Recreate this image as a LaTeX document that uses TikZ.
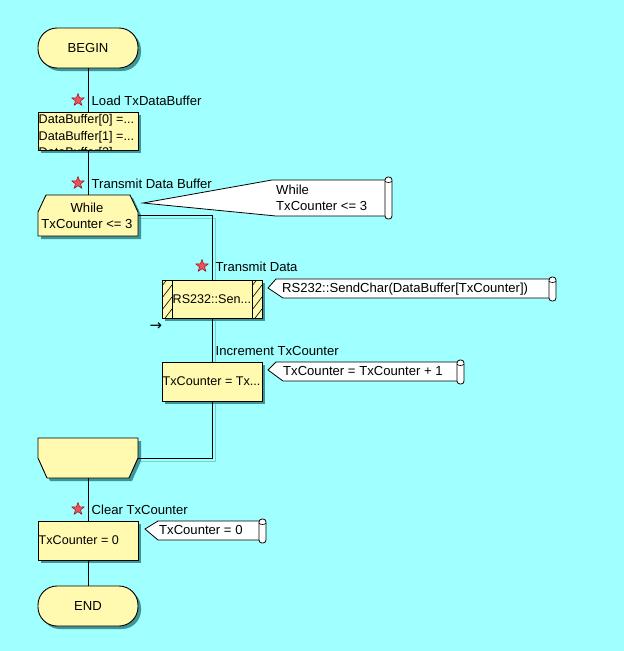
\documentclass[tikz,border=0pt]{standalone}
\usepackage{fontspec}
\setmainfont{Liberation Sans}
\newfontfamily\symfont{DejaVu Sans}
\usetikzlibrary{shapes.geometric,shadows,calc}
\definecolor{bgcol}{RGB}{160,255,255}
\definecolor{nodefill}{RGB}{255,250,176}
\definecolor{shad}{RGB}{64,150,150}
\definecolor{lshad}{RGB}{115,210,210}
\definecolor{starred}{RGB}{240,80,90}
\definecolor{stardark}{RGB}{140,20,30}
\pgfdeclarelayer{back}
\pgfdeclarelayer{lineshadow}
\pgfsetlayers{back,lineshadow,main}
\begin{document}
\begin{tikzpicture}[x=1pt,y=-1pt,font=\fontsize{13.1}{16}\selectfont,
  shadowed/.style={drop shadow={shadow xshift=3pt,shadow yshift=-3pt,fill=shad,opacity=1}},
  box/.style={draw=black,fill=nodefill,line width=0.9pt,minimum width=100pt,inner sep=0pt,shadowed},
  term/.style={box,rounded corners=19pt,minimum height=40pt},
  hole/.style={draw=none,minimum width=100pt,inner sep=0pt},
  lbl/.style={anchor=west,inner sep=0pt},
  inlbl/.style={anchor=west,inner sep=0pt,font=\fontsize{12.6}{16}\selectfont},
  redstar/.style={star,star points=5,star point ratio=2.4,minimum size=13pt,inner sep=0pt,fill=starred,draw=stardark,line width=0.5pt},
  flow/.style={line width=0.9pt,black},
  lineshad/.style={line width=0.9pt,lshad},
  callout/.style={draw=black,fill=white,line width=0.8pt},
  scrollbar/.style={draw=black,fill=white,line width=0.8pt,rounded corners=3pt},
  ctext/.style={anchor=west,inner sep=0pt,align=left}
]
\begin{pgfonlayer}{back}
\fill[bgcol] (0,0) rectangle (624,651);
\end{pgfonlayer}
\useasboundingbox (0,0) rectangle (624,651);

% ---- nodes ----
\node[term] (begin) at (88,48) {BEGIN};
\node[box,minimum height=38pt] (load) at (88,131) {};
\node[hole,minimum height=41pt] (whileA) at (88,215.5) {};
\node[box,minimum height=38pt] (send) at (212,299) {};
\node[box,minimum height=39pt] (inc) at (212,381.5) {};
\node[hole,minimum height=40pt] (loopend) at (88,458) {};
\node[box,minimum height=39pt] (clear) at (88,540.5) {};
\node[term] (finish) at (88,606) {END};

% loop start shape
\filldraw[box] (38,236) -- (38,212) -- (46,195) -- (130,195) -- (138,212) -- (138,236) -- cycle;
\node[align=center,inner sep=0pt] (whiletxt) at (87,216) {While\\TxCounter <= 3};
% loop end shape
\filldraw[box] (38,438) -- (138,438) -- (138,458) -- (129,478) -- (47,478) -- (38,458) -- cycle;

% texts in boxes
\begin{scope}
\clip (38.5,112.5) rectangle (137.5,149.5);
\node[inlbl] (l1) at (38.5,120.5) {DataBuffer[0] =...};
\node[inlbl] (l2) at (38.5,137) {DataBuffer[1] =...};
\node[inlbl] (l3) at (38.5,153.5) {DataBuffer[2]...};
\end{scope}
\draw[black,line width=0.9pt] (38,112) rectangle (138,150);

% hatched side bars of the subroutine box
\begin{scope}
\clip (162,280) rectangle (172,318);
\foreach \yy in {286,298,310,322} \draw[line width=0.6pt] (162,\yy) -- (172,\yy-13);
\end{scope}
\begin{scope}
\clip (252,280) rectangle (262,318);
\foreach \yy in {286,298,310,322} \draw[line width=0.6pt] (252,\yy) -- (262,\yy-13);
\end{scope}
\draw[line width=0.8pt] (172,280) -- (172,318) (252,280) -- (252,318);
\node[inlbl] (sendtxt) at (172.5,299) {RS232::Sen...};
\node[inlbl] (inctxt) at (162.5,381.5) {TxCounter = Tx...};
\node[inlbl] (cleartxt) at (38.5,540.5) {TxCounter = 0};

% ---- connectors ----
\draw[flow] (begin) -- (load);
\draw[flow] (load) -- (whileA.north);
\draw[flow] (whileA.east) -| (send.north);
\draw[flow] (send) -- (inc);
\draw[flow] (inc.south) |- (loopend.east);
\draw[flow] (loopend.south) -- (clear);
\draw[flow] (clear) -- (finish);

\begin{pgfonlayer}{lineshadow}
\draw[lineshad] ($(whileA.east)+(3,3)$) -| ($(send.north)+(3,3)$);
\draw[lineshad] ($(send.south)+(3,3)$) -- ($(inc.north)+(3,3)$);
\draw[lineshad] ($(inc.south)+(3,3)$) |- ($(loopend.east)+(3,3)$);
\end{pgfonlayer}

% ---- step labels ----
\node[redstar] (s1) at (78,100) {};
\node[lbl] (t1) at (91.5,101) {Load TxDataBuffer};
\node[redstar] (s2) at (78,183) {};
\node[lbl] (t2) at (91.5,184) {Transmit Data Buffer};
\node[redstar] (s3) at (202,266) {};
\node[lbl] (t3) at (215.5,267) {Transmit Data};
\node[lbl] (t4) at (215.5,351) {Increment TxCounter};
\node[redstar] (s5) at (78,509) {};
\node[lbl] (t5) at (91.5,510) {Clear TxCounter};
\node[inner sep=0pt,font=\symfont\fontsize{15}{16}\selectfont] (arr) at (156,327) {→};

% ---- callouts ----
\filldraw[callout] (143,203) -- (272,180) -- (386,180) -- (386,216) -- (276,216) -- cycle;
\filldraw[scrollbar] (385,177) rectangle (392,219);
\draw[line width=0.6pt] (385,181) .. controls (386,183) and (391,183) .. (392,181);
\node[ctext] (cw) at (276,197.5) {While\\TxCounter <= 3};

\filldraw[callout] (268,288) -- (276,279) -- (550,279) -- (550,298) -- (283,298) -- cycle;
\filldraw[scrollbar] (549,277) rectangle (556,301);
\draw[line width=0.6pt] (549,281) .. controls (550,283) and (555,283) .. (556,281);
\node[ctext] (cs) at (282,289) {RS232::SendChar(DataBuffer[TxCounter])};

\filldraw[callout] (268,370) -- (276,362) -- (458,362) -- (458,381) -- (283,381) -- cycle;
\filldraw[scrollbar] (457,360) rectangle (464,384);
\draw[line width=0.6pt] (457,364) .. controls (458,366) and (463,366) .. (464,364);
\node[ctext] (ci) at (283,371) {TxCounter = TxCounter + 1};

\filldraw[callout] (145,529) -- (158,521) -- (260,521) -- (260,540) -- (158,540) -- cycle;
\filldraw[scrollbar] (259,519) rectangle (266,543);
\draw[line width=0.6pt] (259,523) .. controls (260,525) and (265,525) .. (266,523);
\node[ctext] (cc) at (159,530) {TxCounter = 0};
\end{tikzpicture}
\end{document}
